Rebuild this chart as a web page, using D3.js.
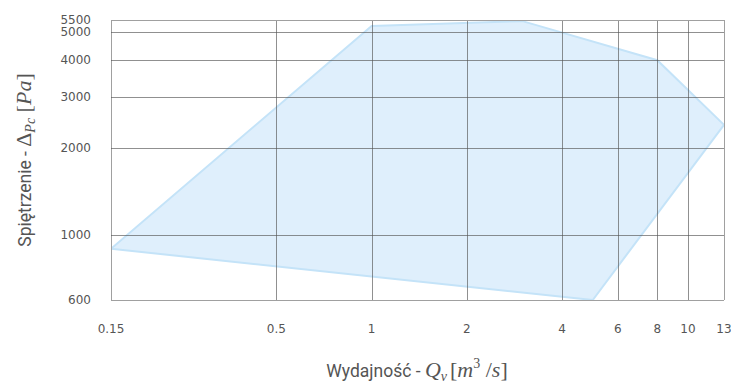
<!DOCTYPE html>
<html>
<head>
<meta charset="utf-8">
<script src="https://cdn.jsdelivr.net/npm/d3@7"></script>
<style>
  body { margin: 0; background: #fff; }
  svg { display: block; }
</style>
</head>
<body>
<script>
// working area outline (flow rate, pressure)
var flowValues = [0.15, 1, 3, 8, 13, 5];
var pressureValues = [900, 5250, 5450, 4000, 2400, 600];

var xTicks = [0.15, 0.5, 1, 2, 4, 6, 8, 10, 13];
var yTicks = [600, 1000, 2000, 3000, 4000, 5000, 5500];

var width = 731, height = 385;
var plotLeft = 111, plotRight = 724, plotTop = 20, plotBottom = 300;

var svg = d3.select("body").append("svg")
    .attr("width", width)
    .attr("height", height);

var x = d3.scaleLog().domain([0.15, 13]).range([plotLeft, plotRight]);
var y = d3.scaleLog().domain([600, 5500]).range([plotBottom, plotTop]);

// area polygon
var pts = flowValues.map((q, i) => [x(q), y(pressureValues[i])]);
svg.append("clipPath").attr("id", "plot")
  .append("rect").attr("x", plotLeft).attr("y", plotTop - 1)
  .attr("width", plotRight - plotLeft + 1).attr("height", plotBottom - plotTop + 2);

svg.append("polygon")
    .attr("points", pts.map(p => p.join(",")).join(" "))
    .attr("fill", "#dcedfc")
    .attr("fill-opacity", 0.9)
    .attr("stroke", "#c4e3f8")
    .attr("stroke-width", 2)
    .attr("clip-path", "url(#plot)");

// grid
var grid = svg.append("g");
grid.selectAll("line.v")
  .data(xTicks)
  .join("line")
    .attr("class", "v")
    .attr("x1", d => Math.round(x(d)) + 0.5)
    .attr("x2", d => Math.round(x(d)) + 0.5)
    .attr("y1", plotTop)
    .attr("y2", plotBottom)
    .attr("stroke", (d, i) => (i == 0 || i == xTicks.length - 1) ? "#a0a0a0" : "#555")
    .attr("stroke-opacity", (d, i) => (i == 0 || i == xTicks.length - 1) ? 1 : 0.65)
    .attr("stroke-width", 1);

grid.selectAll("line.h")
  .data(yTicks)
  .join("line")
    .attr("class", "h")
    .attr("x1", plotLeft)
    .attr("x2", plotRight)
    .attr("y1", d => Math.round(y(d)) + 0.5)
    .attr("y2", d => Math.round(y(d)) + 0.5)
    .attr("stroke", (d, i) => (i == 0 || i == yTicks.length - 1) ? "#a0a0a0" : "#555")
    .attr("stroke-opacity", (d, i) => (i == 0 || i == yTicks.length - 1) ? 1 : 0.65)
    .attr("stroke-width", 1);

// tick labels
svg.append("g").selectAll("text")
  .data(xTicks)
  .join("text")
    .attr("x", d => x(d))
    .attr("y", 333)
    .attr("text-anchor", "middle")
    .attr("font-family", "DejaVu Sans")
    .attr("font-size", 12)
    .attr("fill", "#555")
    .text(d => d);

svg.append("g").selectAll("text")
  .data(yTicks)
  .join("text")
    .attr("x", 91)
    .attr("y", d => y(d) + 4)
    .attr("text-anchor", "end")
    .attr("font-family", "DejaVu Sans")
    .attr("font-size", 12)
    .attr("fill", "#555")
    .text(d => d);

// axis titles
var serif = "Liberation Serif";
var xt = svg.append("text")
    .attr("x", 417)
    .attr("y", 377)
    .attr("text-anchor", "middle")
    .attr("font-family", "Roboto, sans-serif")
    .attr("font-size", 17.5)
    .attr("fill", "#555");
xt.append("tspan").text("Wydajność - ");
xt.append("tspan").attr("font-family", serif).attr("font-style", "italic").attr("font-size", 22).text("Q");
xt.append("tspan").attr("font-family", serif).attr("font-style", "italic").attr("font-size", 14).attr("dy", 4).text("v");
xt.append("tspan").attr("font-family", serif).attr("font-size", 22).attr("dy", -4).attr("dx", 3).text("[");
xt.append("tspan").attr("font-family", serif).attr("font-size", 22).attr("font-style", "italic").text("m");
xt.append("tspan").attr("font-family", serif).attr("font-size", 14).attr("dy", -9).text("3");
xt.append("tspan").attr("font-family", serif).attr("font-size", 22).attr("dy", 9).text(" /");
xt.append("tspan").attr("font-family", serif).attr("font-size", 22).attr("font-style", "italic").text("s");
xt.append("tspan").attr("font-family", serif).attr("font-size", 22).text("]");

var yt = svg.append("text")
    .attr("transform", "translate(31,160) rotate(-90)")
    .attr("text-anchor", "middle")
    .attr("font-family", "Roboto, sans-serif")
    .attr("font-size", 17.5)
    .attr("fill", "#555");
yt.append("tspan").text("Spiętrzenie - ");
yt.append("tspan").attr("font-family", serif).attr("font-size", 22).text("Δ");
yt.append("tspan").attr("font-family", serif).attr("font-style", "italic").attr("font-size", 14).attr("dy", 4).text("Pc");
yt.append("tspan").attr("font-family", serif).attr("font-size", 22).attr("dy", -4).text(" [");
yt.append("tspan").attr("font-family", serif).attr("font-size", 22).attr("font-style", "italic").text("Pa");
yt.append("tspan").attr("font-family", serif).attr("font-size", 22).text("]");
</script>
</body>
</html>
